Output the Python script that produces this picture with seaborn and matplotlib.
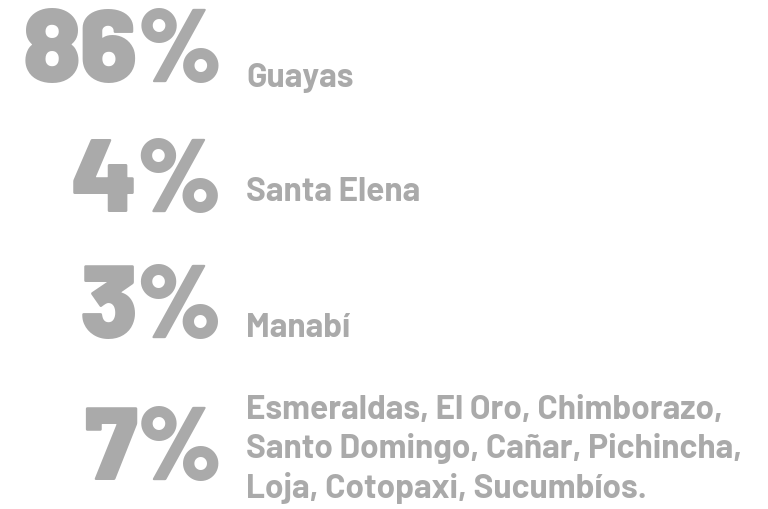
import matplotlib
matplotlib.use("Agg")
import matplotlib.pyplot as plt
import seaborn as sns

sns.set_theme(style="white")

# datos: participación por provincia
shares = [86, 4, 3, 7]
labels = ["Guayas",
          "Santa Elena",
          "Manabí",
          "Esmeraldas, El Oro, Chimborazo,\nSanto Domingo, Cañar, Pichincha,\nLoja, Cotopaxi, Sucumbíos."]

# posiciones (pixeles) de cada fila
num_base = [82, 212, 338, 480]
lab_base = [87, 201, 337, 419]
line_gap = 39.5
gray = "#aaaaaa"

fig = plt.figure(figsize=(7.68, 5.10), dpi=100)
ax = fig.add_axes([0, 0, 1, 1])
ax.set_xlim(0, 768)
ax.set_ylim(510, 0)
ax.axis("off")

for s, lab, yb, yl in zip(shares, labels, num_base, lab_base):
    ax.text(222, yb, f"{s}%", ha="right", va="baseline", color=gray,
            fontsize=75, fontweight=900, family=["Barlow", "Roboto", "DejaVu Sans"])
    for i, line in enumerate(lab.split("\n")):
        ax.text(246, yl + i * line_gap, line, ha="left", va="baseline", color=gray,
                fontsize=24, fontweight="bold",
                family=["Barlow", "Roboto Condensed", "DejaVu Sans"])

fig.savefig("out.png", dpi=100)
